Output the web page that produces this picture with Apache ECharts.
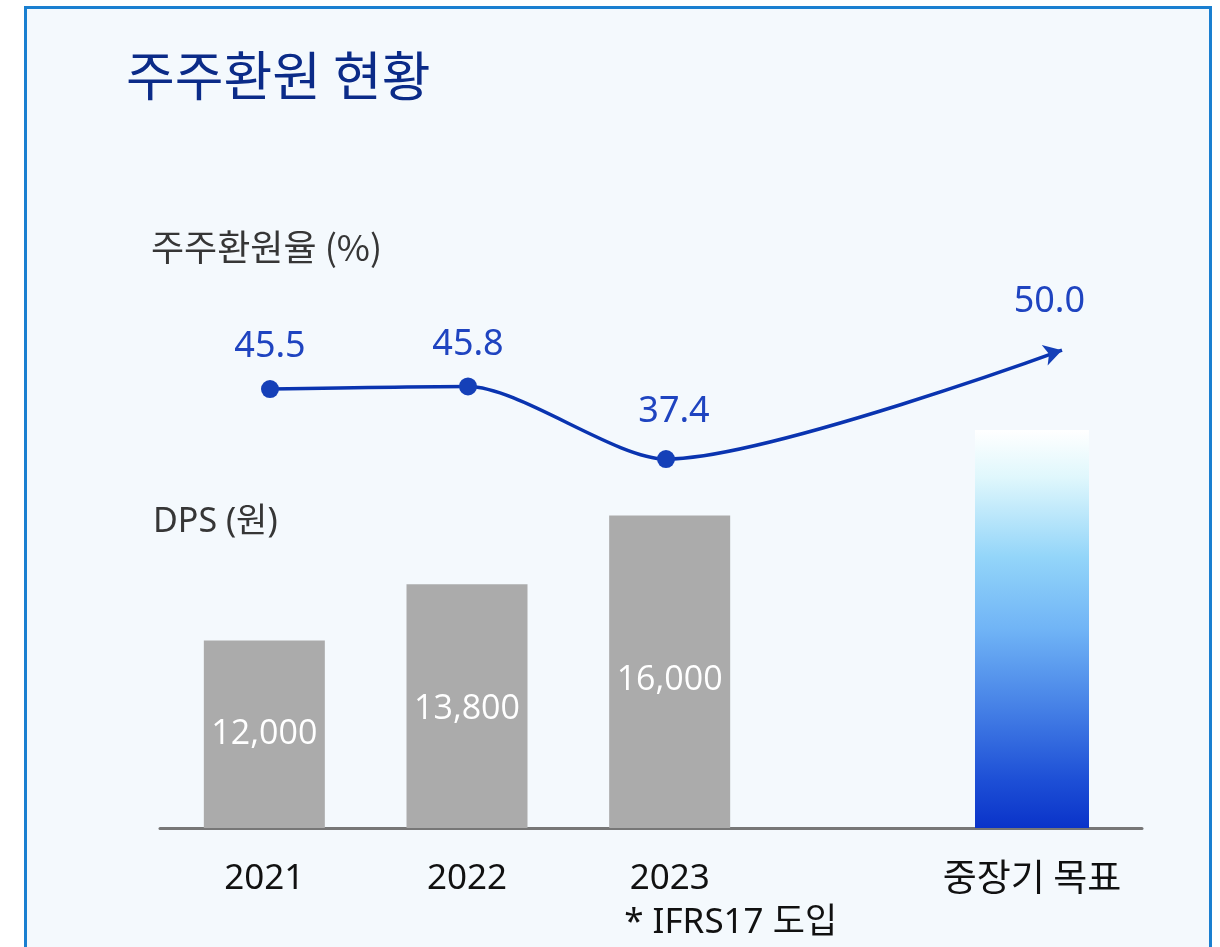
<!DOCTYPE html>
<html>
<head>
<meta charset="utf-8">
<script src="https://cdn.jsdelivr.net/npm/echarts@6/dist/echarts.min.js"></script>
<style>
  html, body { margin: 0; padding: 0; background: #ffffff; }
  #chart { width: 1220px; height: 947px; }
</style>
</head>
<body>
<div id="chart"></div>
<script>
// Shareholder return: DPS per year and payout ratio with the mid/long-term target
const years = ['2021', '2022', '2023'];
const yearNotes = ['', '', '* IFRS17 도입'];
const targetLabel = '중장기 목표';
const dps = [12000, 13800, 16000];          // 원
const payoutRatio = [45.5, 45.8, 37.4];     // %
const payoutTarget = 50.0;                  // %

const latin = "'Noto Sans', 'Noto Sans CJK KR', sans-serif";
const korean = "'Noto Sans CJK KR', 'Noto Sans', sans-serif";

const chart = echarts.init(document.getElementById('chart'), null, { renderer: 'canvas' });

// bar items: the tallest bar carries its label a little lower than centre
const dpsData = dps.map((v, i) => ({
  value: v,
  label: { offset: i === 2 ? [0, 9] : i === 1 ? [0, 3] : [0, 0] }
}));

// line category slots: three years, a spacer, then the target
const lineCats = [...years, '', targetLabel];
const lineData = [
  ...payoutRatio.map((v, i) => ({
    value: v,
    label: i === 2 ? { distance: 20, offset: [8, 0] } : { distance: 15 }
  })),
  '-',
  {
    value: payoutTarget,
    symbol: 'arrow',
    symbolSize: [16, 18],
    symbolRotate: -74,
    label: { distance: 20, offset: [-4, 0] }
  }
];

const targetGradient = new echarts.graphic.LinearGradient(0, 0, 0, 1, [
  { offset: 0.0, color: '#ffffff' },
  { offset: 0.12, color: '#dff7fc' },
  { offset: 0.32, color: '#93d5f9' },
  { offset: 0.5, color: '#70b4f6' },
  { offset: 0.7, color: '#4580e6' },
  { offset: 0.88, color: '#1d4fd6' },
  { offset: 1.0, color: '#0a33c9' }
]);

const hiddenY = { show: false };

const option = {
  backgroundColor: '#ffffff',
  animation: false,
  graphic: [
    {
      type: 'rect',
      z: -10,
      silent: true,
      shape: { x: 25.5, y: 7.5, width: 1185, height: 1000 },
      style: { fill: '#f4f9fd', stroke: '#1a7fd0', lineWidth: 3 }
    }
  ],
  title: [
    {
      text: '주주환원 현황',
      left: 121, top: 44,
      textStyle: { fontFamily: korean, fontSize: 53, fontWeight: 400, color: '#0b2b88' }
    },
    {
      text: '주주환원율 (%)',
      left: 146, top: 224,
      textStyle: { fontFamily: korean, fontSize: 36, fontWeight: 400, color: '#363636' }
    },
    {
      text: 'DPS (원)',
      left: 148, top: 500,
      textStyle: { fontFamily: latin, fontSize: 34, fontWeight: 400, color: '#363636' }
    }
  ],
  grid: [
    { left: 163, width: 608, top: 453, height: 375 },   // yearly DPS bars
    { left: 922, width: 220, top: 430, height: 398 },   // target bar
    { left: 270, width: 792, top: 307, height: 216 },   // payout ratio line
    { left: 160, width: 982, top: 453, height: 375 }    // shared baseline
  ],
  xAxis: [
    {
      gridIndex: 0, type: 'category', data: years,
      axisLine: { show: false }, axisTick: { show: false },
      axisLabel: {
        interval: 0,
        hideOverlap: false,
        margin: 29,
        formatter: (v, i) => yearNotes[i] ? `{y|${v}}\n{n|${yearNotes[i]}}` : `{y|${v}}`,
        rich: {
          y: { fontFamily: latin, fontSize: 35, color: '#111111', align: 'center', lineHeight: 44 },
          n: { fontFamily: latin, fontSize: 35, color: '#111111', lineHeight: 44, padding: [0, 0, 0, 122] }
        }
      }
    },
    {
      gridIndex: 1, type: 'category', data: [targetLabel],
      axisLine: { show: false }, axisTick: { show: false },
      axisLabel: { interval: 0, margin: 27, fontFamily: korean, fontSize: 37, color: '#111111', lineHeight: 44 }
    },
    {
      gridIndex: 2, type: 'category', data: lineCats, boundaryGap: false, show: false
    },
    {
      gridIndex: 3, type: 'value', min: 0, max: 1,
      axisLine: { show: true, lineStyle: { color: '#777777', width: 3 } },
      axisTick: { show: false }, axisLabel: { show: false }, splitLine: { show: false }
    }
  ],
  yAxis: [
    { gridIndex: 0, type: 'value', min: 6000, max: 18000, ...hiddenY },
    { gridIndex: 1, type: 'value', min: 0, max: 50, ...hiddenY },
    { gridIndex: 2, type: 'value', min: 30, max: 55, ...hiddenY },
    { gridIndex: 3, type: 'value', min: 0, max: 1, ...hiddenY }
  ],
  series: [
    {
      name: 'DPS',
      type: 'bar',
      xAxisIndex: 0, yAxisIndex: 0,
      data: dpsData,
      barWidth: 121,
      itemStyle: { color: '#ababab' },
      label: {
        show: true,
        position: 'inside',
        formatter: p => p.value.toLocaleString('en-US'),
        fontFamily: "'Open Sans', 'Noto Sans', sans-serif",
        fontWeight: 400,
        fontSize: 34,
        color: '#ffffff'
      }
    },
    {
      name: targetLabel,
      type: 'bar',
      xAxisIndex: 1, yAxisIndex: 1,
      data: [payoutTarget],
      barWidth: 114,
      itemStyle: { color: targetGradient }
    },
    {
      name: '주주환원율',
      type: 'line',
      xAxisIndex: 2, yAxisIndex: 2,
      data: lineData,
      connectNulls: true,
      smooth: 0.25,
      symbol: 'circle',
      symbolSize: 18,
      lineStyle: { color: '#0a34b0', width: 3.5 },
      itemStyle: { color: '#1540b8' },
      z: 5,
      label: {
        show: true,
        position: 'top',
        formatter: p => Number(p.value).toFixed(1),
        fontFamily: latin,
        fontSize: 36,
        color: '#1f44c0'
      }
    }
  ]
};

chart.setOption(option);
</script>
</body>
</html>
